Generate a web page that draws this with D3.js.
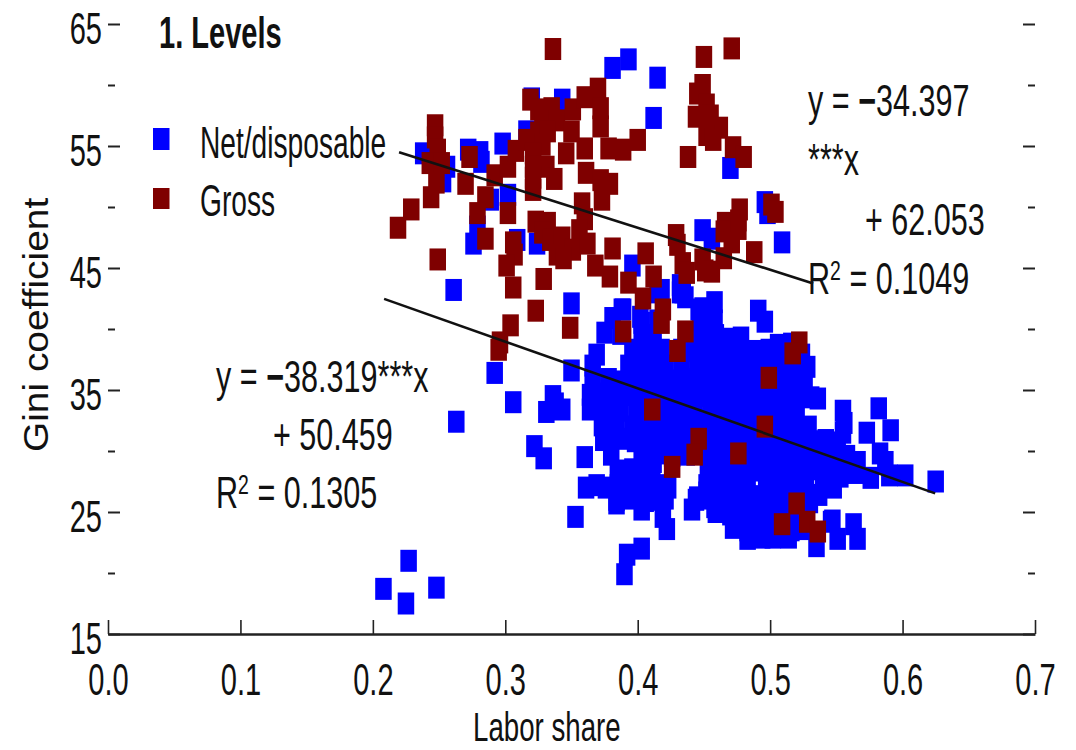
<!DOCTYPE html>
<html>
<head>
<meta charset="utf-8">
<script src="https://cdn.jsdelivr.net/npm/d3@7"></script>
<style>
  body { margin: 0; background: #fff; }
  text { font-family: "Liberation Sans", Arial, sans-serif; fill: #111; }
</style>
</head>
<body>
<div id="canvas"></div>
<script>
const xTicks = [0, 0.1, 0.2, 0.3, 0.4, 0.5, 0.6, 0.7];
const yTicks = [15, 25, 35, 45, 55, 65];
const yMinorTicks = [20, 30, 40, 50, 60];

// regression lines: [slope, intercept, x start, x end]
const netLine = [-38.319, 50.459, 0.2085, 0.6246];
const grossLine = [-34.397, 62.053, 0.2198, 0.5325];

// [labor share, gini]
const netOutliers = [
  [.227,21],[.208,18.7],[.225,17.5],[.248,18.8],[.263,32.4],[.292,36.4],[.306,34],[.261,43.2],
  [.350,42.1],[.350,36.6],[.336,34.5],[.331,33.2],[.343,33.4],[.338,33.9],[.322,30.4],[.329,29.4],
  [.360,29.5],[.353,24.6],[.403,22],[.392,21.5],[.390,19.9],[.625,27.5],
  [.393,62.1],[.381,61.4],[.415,60.6],[.412,57.3],[.470,53.2],[.320,58.9],[.343,58.8],[.316,56.2],
  [.238,54.4],[.272,54.7],[.281,54.5],[.282,53.7],[.298,55.2],[.256,53.3],[.253,52.1],[.289,50.6],
  [.302,51],[.279,48.4],[.276,47],[.309,47.3],[.324,47],[.396,45.2],[.449,48.1],[.456,47.4],
  [.496,50.4],[.498,49.5],[.509,47.1]
];
const netCluster = [
  [.418,43.2],[.432,43],[.415,43],[.434,43],[.432,43.6],[.436,42.6],[.458,42.2],[.449,41.7],[.446,41.6],
  [.491,41.5],[.496,40.6],[.388,41.6],[.381,40.9],[.389,41.6],[.402,41],[.403,40.5],[.415,40.7],[.458,40.7],[.447,40.7],
  [.375,39.7],[.387,39.6],[.412,39.5],[.403,39.5],[.448,39.5],[.459,39.5],[.470,39.2],[.478,39.3],[.506,38.7],[.516,38.8],
  [.369,37.9],[.396,38.3],[.407,38.2],[.418,38.3],[.433,38.3],[.444,38.2],[.455,38.3],[.466,38.1],[.477,38.3],[.488,38.2],[.499,38.3],[.510,38.1],[.521,38.3],[.524,37.9],
  [.366,37],[.393,37],[.404,37.1],[.416,36.9],[.421,37],[.433,37.1],[.445,36.9],[.456,37],[.467,37.1],[.478,36.9],[.489,37],[.500,37.1],[.512,36.9],[.523,37],[.528,36.9],
  [.366,35.8],[.378,35.9],[.389,35.7],[.400,35.8],[.411,35.9],[.422,35.7],[.433,35.8],[.444,35.9],[.455,35.7],[.466,35.8],[.477,35.9],[.488,35.7],[.499,35.8],[.510,35.9],[.521,35.7],[.526,35.4],
  [.364,34.6],[.375,34.7],[.386,34.5],[.398,34.6],[.409,34.7],[.420,34.5],[.431,34.6],[.442,34.7],[.454,34.5],[.465,34.6],[.476,34.7],[.487,34.5],[.498,34.6],[.509,34.7],[.520,34.5],[.531,34.4],[.536,34.3],
  [.364,33.4],[.376,33.5],[.387,33.3],[.399,33.4],[.410,33.5],[.421,33.3],[.432,33.4],[.443,33.5],[.455,33.3],[.466,33.4],[.477,33.5],[.488,33.3],[.499,33.4],[.510,33.5],[.520,33.3],
  [.582,33.5],[.555,33.3],[.556,32.3],[.373,32.1],[.384,32.2],[.396,32],[.407,32.1],[.418,32.2],[.429,32],[.440,32.1],[.451,32.2],[.463,32],[.474,32.1],[.485,32.2],[.496,32],[.507,32.1],[.518,32.2],[.529,32],
  [.591,31.7],[.573,31.5],[.555,31.5],[.374,30.9],[.386,31],[.398,30.8],[.409,30.9],[.420,31],[.431,30.8],[.442,30.9],[.453,31],[.465,30.8],[.476,30.9],[.487,31],[.498,30.8],[.509,30.9],[.520,31],[.531,30.8],[.542,30.9],[.547,30.7],
  [.551,30.1],[.583,29.8],[.380,29.7],[.403,29.7],[.415,29.8],[.426,29.6],[.437,29.7],[.449,29.8],[.460,29.6],[.471,29.7],[.482,29.8],[.493,29.6],[.504,29.7],[.515,29.8],[.526,29.6],[.537,29.7],[.548,29.8],[.558,29.6],
  [.587,29.1],[.566,29.1],[.412,29.1],[.385,28.4],[.396,28.5],[.407,28.3],[.411,28.4],[.453,28.4],[.464,28.5],[.475,28.3],[.486,28.4],[.497,28.5],[.508,28.3],[.519,28.4],[.530,28.5],[.541,28.3],[.549,28.4],
  [.564,28.2],[.602,28],[.590,28],[.576,27.8],[.553,27.9],[.361,27],[.369,27.2],[.376,27],[.385,27.2],[.396,27.3],[.407,27.1],[.418,27.2],[.423,27],[.452,27.2],[.463,27.3],[.473,27.1],[.497,27.2],[.508,27],[.527,27.2],[.540,27.3],[.545,27.2],[.548,27],
  [.392,26.8],[.400,26.8],[.412,26.6],[.445,26.2],[.452,26.6],[.467,26.2],[.384,26],[.395,26.1],[.406,25.9],[.417,26],[.421,26.1],[.444,26],[.455,26.1],[.466,25.9],[.473,26],[.492,26],[.503,26.1],[.514,25.9],[.524,26],[.530,25.8],
  [.403,25.2],[.384,25.7],[.441,25.2],[.458,25.4],[.475,25.4],[.419,24.6],[.422,23.6],[.470,24.8],[.481,24.9],[.492,24.7],[.503,24.8],[.514,24.9],[.525,24.7],[.547,24.3],[.563,24],
  [.472,23.7],[.483,23.5],[.494,23.6],[.505,23.4],[.516,23.5],[.527,23.6],[.546,24.2],[.494,22.9],[.502,22.9],[.514,22.9],[.535,22.2],[.551,22.8],[.566,22.8],
  [.483,27.1],[.487,26.3],[.481,25.6],[.517,27.2],[.537,26.4],[.459,25],[.483,22.8]
];
const grossPoints = [
  [.336,62.95],[.247,56.7],[.247,55.7],[.249,54.7],[.243,53.6],[.252,53.6],[.248,52],[.244,50.8],[.229,49.8],[.219,48.3],[.249,45.7],
  [.273,54.1],[.270,51.9],[.285,50.8],[.279,49.5],[.285,47.4],[.292,52.6],[.302,53.3],[.308,54.6],[.316,55.5],[.319,58.8],[.325,58],
  [.335,58.1],[.328,57],[.339,57.1],[.325,56.1],[.332,56.2],[.328,55.1],[.321,54.4],[.321,53.3],[.331,53.3],[.321,52.4],[.337,52.3],[.321,51.4],
  [.302,49.5],[.306,47.1],[.307,46.1],[.301,45.2],[.306,43.4],[.329,44.1],[.323,41.5],[.304,40.3],[.349,40.1],[.346,54.4],[.351,58],[.350,56.2],
  [.360,59],[.370,59.7],[.372,58.1],[.372,56.6],[.360,54.8],[.378,54.8],[.389,54.7],[.400,55.5],[.361,52.8],[.372,52.2],[.379,51.9],[.373,50.6],
  [.358,50.3],[.360,49],[.356,48.1],[.323,48.8],[.332,48.7],[.328,47.9],[.334,47.3],[.343,47.5],[.339,46.1],[.351,46.5],[.344,45.8],[.362,47],
  [.368,45.2],[.379,44.3],[.381,46.6],[.393,43.8],[.406,46.2],[.412,44.3],[.404,42.5],
  [.471,63],[.450,62.3],[.449,60],[.445,59.3],[.452,58.4],[.455,57.5],[.444,57.4],[.462,56.5],[.452,55.9],[.457,55.5],[.472,54.9],[.480,54.1],[.438,54.1],
  [.429,47.7],[.430,46.9],[.477,49.8],[.476,48.9],[.466,48.7],[.465,48],[.476,48.2],[.471,47.1],[.488,46.3],[.501,50.2],[.504,49.6],
  [.434,45.4],[.437,44.6],[.449,45.7],[.465,45.8],[.451,44.8],[.456,44.7],[.419,41.6],[.296,38.9],[.295,38.3],[.389,39.8],[.418,40.5],[.436,39.8],[.430,38.2],
  [.411,33.4],[.522,38.9],[.517,38],[.499,36],[.496,32],[.446,31],[.443,29.7],[.476,29.8],[.426,28.7],[.520,25.7],[.509,24],[.528,24.2],[.536,23.4]
];

const netColor = "#0000ff";
const grossColor = "#7f0000";

const x = d3.scaleLinear().domain([0, 0.7]).range([108, 1035]);
const y = d3.scaleLinear().domain([15, 65]).range([634, 24]);

const svg = d3
  .select("#canvas")
  .append("svg")
  .attr("width", 1076)
  .attr("height", 750)
  .style("display", "block")
  .style("background-color", "#fff");

// text is drawn squeezed sideways, the original picture is narrow
const label = (px, py, str, squeeze = 0.64, size = 44) =>
  svg
    .append("text")
    .attr("transform", `translate(${px},${py}) scale(${squeeze},1)`)
    .attr("font-size", size)
    .text(str);

// Axes
const tickSqueeze = 0.66;
const xAxis = d3.axisBottom(x).tickValues(xTicks).tickFormat(d3.format(".1f")).tickSizeInner(-14).tickSizeOuter(0);
const yLeft = d3.axisLeft(y).tickValues(yTicks).tickFormat(d3.format("d")).tickSize(-12);
const yRight = d3.axisRight(y).tickValues(yTicks).tickFormat("").tickSize(-12);
const yLeftMinor = d3.axisLeft(y).tickValues(yMinorTicks).tickFormat("").tickSize(-7);
const yRightMinor = d3.axisRight(y).tickValues(yMinorTicks).tickFormat("").tickSize(-7);

const xGroup = svg.append("g").attr("transform", "translate(0,634)").call(xAxis);
xGroup.select(".domain").attr("stroke", "#222").attr("stroke-width", 2.5);
xGroup.selectAll("line").attr("stroke", "#222").attr("stroke-width", 1.6);
xGroup
  .selectAll("text")
  .attr("y", 61)
  .attr("dy", null)
  .attr("font-size", 44)
  .attr("transform", `scale(${tickSqueeze},1)`)
  .attr("x", 0);

const yGroups = [
  svg.append("g").attr("transform", "translate(108,0)").call(yLeft),
  svg.append("g").attr("transform", "translate(1035,0)").call(yRight),
  svg.append("g").attr("transform", "translate(108,0)").call(yLeftMinor),
  svg.append("g").attr("transform", "translate(1035,0)").call(yRightMinor)
];
yGroups.forEach(g => {
  g.select(".domain").remove();
  g.selectAll("line").attr("stroke", "#222").attr("stroke-width", 2);
});
yGroups[0]
  .selectAll("text")
  .attr("dy", null)
  .attr("y", 19.5)
  .attr("x", -6 / tickSqueeze)
  .attr("font-size", 44)
  .attr("transform", `scale(${tickSqueeze},1)`);

// Points
const drawSquares = (data, fill) =>
  svg
    .append("g")
    .selectAll("rect")
    .data(data)
    .enter()
    .append("rect")
    .attr("x", d => x(d[0]) - 8.25)
    .attr("y", d => y(d[1]) - 11)
    .attr("width", 16.5)
    .attr("height", 22)
    .attr("fill", fill);

drawSquares(netOutliers.concat(netCluster), netColor);
drawSquares(grossPoints, grossColor);

// Regression lines
const lineGen = d3.line();
[netLine, grossLine].forEach(l => {
  const ends = [l[2], l[3]].map(v => [x(v), y(l[0] * v + l[1])]);
  svg
    .append("path")
    .attr("d", lineGen(ends))
    .attr("fill", "none")
    .attr("stroke", "#111")
    .attr("stroke-width", 2.6);
});

// Legend
svg.append("rect").attr("x", 153).attr("y", 128).attr("width", 16.5).attr("height", 22).attr("fill", netColor);
svg.append("rect").attr("x", 153).attr("y", 188).attr("width", 16.5).attr("height", 21).attr("fill", grossColor);
label(200, 158, "Net/disposable");
label(200, 216, "Gross");
label(159, 48, "1. Levels", 0.66).attr("font-weight", "bold");

// Equations
const eqSqueeze = 0.695;
const slopeLine = (px, py, rest) => {
  const t = label(px, py, "y = ", eqSqueeze);
  t.append("tspan").attr("font-weight", "bold").text("\u2212");
  t.append("tspan").text(rest);
};
const r2 = (px, py, value) => {
  const t = label(px, py, "R", eqSqueeze);
  t.append("tspan").attr("dy", -14).attr("font-size", 28).text("2");
  t.append("tspan").attr("dy", 14).text(" = " + value);
};
slopeLine(808, 116, "34.397");
label(808, 175, "***x", eqSqueeze);
label(865, 235, "+ 62.053", eqSqueeze);
r2(808, 294, "0.1049");
slopeLine(216, 392, "38.319***x");
label(273, 450, "+ 50.459", eqSqueeze);
r2(216, 508, "0.1305");

// Axis titles
label(473, 741, "Labor share", 0.675, 41);
svg
  .append("text")
  .attr("transform", "translate(48,452) rotate(-90) scale(1.08,1)")
  .attr("font-size", 36)
  .text("Gini coefficient");
</script>
</body>
</html>
